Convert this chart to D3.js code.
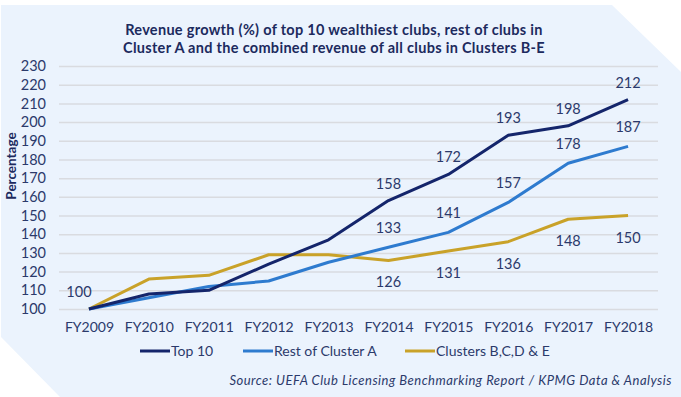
<!DOCTYPE html>
<html>
<head>
<meta charset="utf-8">
<script src="https://cdn.jsdelivr.net/npm/d3@7"></script>
<style>
  body { margin: 0; background: #fff; }
  svg text { font-family: Lato, "Open Sans", sans-serif; }
</style>
</head>
<body>
<div id="container"></div>
<script>
const years = ["FY2009", "FY2010", "FY2011", "FY2012", "FY2013", "FY2014", "FY2015", "FY2016", "FY2017", "FY2018"];
const top10 = [100, 108, 110, 124, 137, 158, 172, 193, 198, 212];
const restA = [100, 106, 112, 115, 125, 133, 141, 157, 178, 187];
const clustersBE = [100, 116, 118, 129, 129, 126, 131, 136, 148, 150];
const yTicks = [100, 110, 120, 130, 140, 150, 160, 170, 180, 190, 200, 210, 220, 230];
// which points get a value label
const top10Labels = [0, 5, 6, 7, 8, 9];
const restLabels = [5, 6, 7, 8, 9];
const clusterLabels = [5, 6, 7, 8, 9];

const W = 681, H = 397;
const margin = { top: 66, right: 23, bottom: 88, left: 59 };

const svg = d3.select("#container").append("svg")
    .attr("width", W)
    .attr("height", H);

// panel background with cut corners
svg.append("path")
    .attr("d", "M1,5 L612,5 L681,72 L681,397 L60,397 L1,337 Z")
    .attr("fill", "#ebf3fd");

const x = d3.scalePoint()
    .domain(years)
    .range([margin.left, W - margin.right])
    .padding(0.5);

const y = d3.scaleLinear()
    .domain([100, 230])
    .range([H - margin.bottom, margin.top]);

// title
const title = svg.append("text")
    .attr("text-anchor", "middle")
    .attr("fill", "#1c2a5e")
    .attr("font-weight", "bold")
    .attr("font-size", 14.5)
    .attr("letter-spacing", 0.3);
title.append("tspan").attr("x", 334).attr("y", 35)
    .text("Revenue growth (%) of top 10 wealthiest clubs, rest of clubs in");
title.append("tspan").attr("x", 334).attr("y", 53)
    .text("Cluster A and the combined revenue of all clubs in Clusters B-E");

// gridlines + y axis
const yAxis = svg.append("g")
    .attr("transform", "translate(" + margin.left + ",0)")
    .call(d3.axisLeft(y).tickValues(yTicks).tickSize(-(W - margin.left - margin.right)).tickPadding(13));
yAxis.select(".domain").remove();
yAxis.selectAll(".tick line").attr("stroke", "#d9dbe0").attr("stroke-width", 1.5);
yAxis.selectAll(".tick text")
    .attr("fill", "#2b3a6b")
    .attr("font-size", 14.5);

// x axis labels
const xAxis = svg.append("g")
    .attr("transform", "translate(0," + (H - margin.bottom) + ")")
    .call(d3.axisBottom(x).tickSize(0).tickPadding(13));
xAxis.select(".domain").remove();
xAxis.selectAll(".tick text")
    .attr("fill", "#2b3a6b")
    .attr("font-size", 14);

// y axis title
svg.append("text")
    .attr("transform", "translate(16,166) rotate(-90)")
    .attr("text-anchor", "middle")
    .attr("fill", "#1c2a5e")
    .attr("font-weight", "bold")
    .attr("font-size", 13.5)
    .text("Percentage");

const line = d3.line()
    .x((d, i) => x(years[i]))
    .y(d => y(d));

const series = [
    { name: "Clusters B,C,D & E", values: clustersBE, color: "#c9a229" },
    { name: "Rest of Cluster A", values: restA, color: "#2e7bcf" },
    { name: "Top 10", values: top10, color: "#14256b" }
];

series.forEach(s => {
    svg.append("path")
        .datum(s.values)
        .attr("fill", "none")
        .attr("stroke", s.color)
        .attr("stroke-width", 3)
        .attr("stroke-linejoin", "round")
        .attr("d", line);
});

// value labels
function addLabels(values, idx, dy, dx) {
    svg.append("g").selectAll("text")
        .data(idx)
        .enter().append("text")
        .attr("x", i => x(years[i]) + (dx ? dx(i) : 0))
        .attr("y", i => y(values[i]) + dy)
        .attr("text-anchor", "middle")
        .attr("fill", "#2b3a6b")
        .attr("font-size", 14.5)
        .text(i => values[i]);
}
addLabels(top10, top10Labels, -12, i => i === 0 ? -10 : 0);
addLabels(restA, restLabels, -14, null);
addLabels(clustersBE, clusterLabels, 27, null);

// legend
const legendItems = [
    { name: "Top 10", color: "#14256b", x: 140 },
    { name: "Rest of Cluster A", color: "#2e7bcf", x: 243 },
    { name: "Clusters B,C,D & E", color: "#c9a229", x: 405 }
];
const legend = svg.append("g");
legendItems.forEach(d => {
    legend.append("line")
        .attr("x1", d.x).attr("x2", d.x + 30)
        .attr("y1", 351).attr("y2", 351)
        .attr("stroke", d.color)
        .attr("stroke-width", 3);
    legend.append("text")
        .attr("x", d.x + 31)
        .attr("y", 356)
        .attr("fill", "#2b3a6b")
        .attr("font-size", 14)
        .text(d.name);
});

// source note
svg.append("text")
    .attr("x", 672)
    .attr("y", 385)
    .attr("text-anchor", "end")
    .attr("fill", "#2b3a6b")
    .attr("font-style", "italic")
    .attr("font-size", 13)
    .attr("letter-spacing", 0.5)
    .text("Source: UEFA Club Licensing Benchmarking Report / KPMG Data & Analysis");
</script>
</body>
</html>
